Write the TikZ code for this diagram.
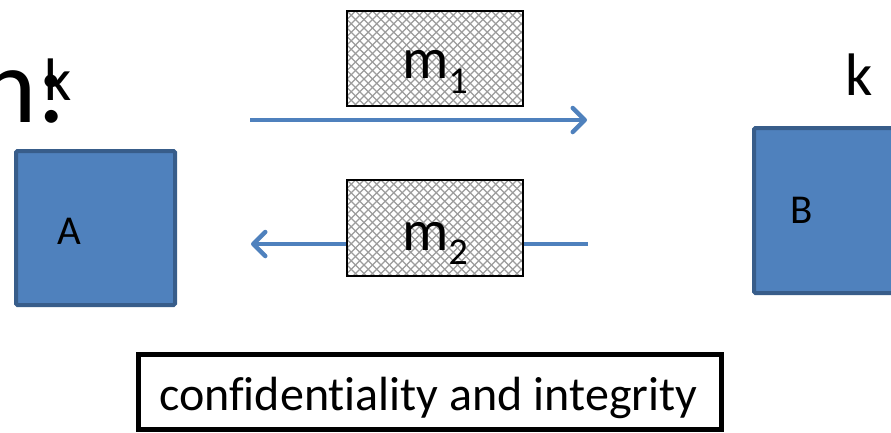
\documentclass[tikz,border=0pt]{standalone}
\usepackage{fontspec}
\setmainfont{Carlito}[Ligatures={NoCommon}]
\usetikzlibrary{arrows.meta}
\definecolor{boxblue}{HTML}{4F81BD}
\definecolor{boxedge}{HTML}{385D8A}
\definecolor{hatchgray}{HTML}{9C9C9C}
\newcommand{\myhatch}[4]{%
  \begin{scope}
  \clip (#1,#2) rectangle (#3,#4);
  \fill[white] (#1,#2) rectangle (#3,#4);
  \foreach \k in {-14,...,36}{
    \draw[hatchline] ({#1+\k*8.5},#2) -- ++(110,110);
    \draw[hatchline] ({#1+\k*8.5},#2) -- ++(-110,110);
  }
  \end{scope}}
\begin{document}
\begin{tikzpicture}[x=1pt,y=-1pt,
  party/.style={draw=boxedge,fill=boxblue,line width=4pt,rounded corners=1.5pt,inner sep=0pt},
  msgbox/.style={draw=black,line width=1.5pt,inner sep=0pt},
  hatchline/.style={draw=hatchgray,line width=1.1pt},
  flow/.style={draw=boxblue,line width=4.5pt,-{Straight Barb[length=12pt,width=24pt,round]}},
  txt/.style={inner sep=0pt,anchor=base}]
\useasboundingbox (0,0) rectangle (891,432);
\clip (0,0) rectangle (891,432);
% parties
\node[party,minimum width=159pt,minimum height=154pt] (A) at (95.5,228) {};
\node[txt,font=\fontsize{41}{44}\selectfont] (Alab) at (69,244) {A};
\node[party,minimum width=161pt,minimum height=165pt] (B) at (834.5,210.5) {};
\node[txt,font=\fontsize{41}{44}\selectfont] (Blab) at (802,223) {B};
% keys
\node[inner sep=0pt,anchor=base east,font=\fontsize{107}{110}\selectfont] (nc) at (66,122) {n:};
\node[txt,anchor=base west,font=\fontsize{60}{64}\selectfont] (kA) at (44,100) {k};
\node[txt,anchor=base west,font=\fontsize{60}{64}\selectfont] (kB) at (845,95) {k};
% arrows
\coordinate (s1) at (250,120);
\coordinate (e1) at (587,120);
\draw[flow] (s1) -- (e1);
\coordinate (s2) at (588,244);
\coordinate (e2) at (251,244);
\draw[flow] (s2) -- (e2);
% messages
\myhatch{347}{11}{523}{106}
\node[msgbox,minimum width=176pt,minimum height=95pt] (m1) at (435,58.5) {};
\node[txt,anchor=base west] (m1lab) at (402,78) {\fontsize{58}{60}\selectfont m\raisebox{-15pt}{\fontsize{38}{40}\selectfont 1}};
\myhatch{347}{180}{523}{276}
\node[msgbox,minimum width=176pt,minimum height=96pt] (m2) at (435,228) {};
\node[txt,anchor=base west] (m2lab) at (402,250) {\fontsize{58}{60}\selectfont m\raisebox{-14pt}{\fontsize{38}{40}\selectfont 2}};
% bottom box
\node[draw=black,line width=5pt,inner sep=0pt,minimum width=583pt,minimum height=75pt] (conf) at (430,392) {};
\node[txt,anchor=base west,font=\fontsize{48}{50}\selectfont] (conflab) at (159,410) {confidentiality and integrity};
\end{tikzpicture}
\end{document}
